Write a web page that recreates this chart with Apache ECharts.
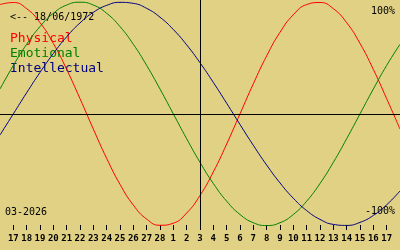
<!DOCTYPE html>
<html>
<head>
<meta charset="utf-8">
<script src="https://cdn.jsdelivr.net/npm/echarts@6/dist/echarts.min.js"></script>
<style>
html,body{margin:0;padding:0;background:#e0d184;}
#chart{width:400px;height:250px;}
</style>
</head>
<body>
<div id="chart"></div>
<script>
// Day offsets relative to the marked day (03-2026, day 3)
const dayOffsets = [-15,-14,-13,-12,-11,-10,-9,-8,-7,-6,-5,-4,-3,-2,-1,0,1,2,3,4,5,6,7,8,9,10,11,12,13,14,15];
const dayLabels = ['16','17','18','19','20','21','22','23','24','25','26','27','28','1','2','3','4','5','6','7','8','9','10','11','12','13','14','15','16','17','18'];
const physical = [0.9791,0.9977,0.9423,0.8170,0.6311,0.3984,0.1362,-0.1362,-0.3984,-0.6311,-0.8170,-0.9423,-0.9977,-0.9791,-0.8879,-0.7308,-0.5196,-0.2698,0,0.2698,0.5196,0.7308,0.8879,0.9791,0.9977,0.9423,0.8170,0.6311,0.3984,0.1362,-0.1362];
const emotional = [0.2225,0.4339,0.6235,0.7818,0.9010,0.9749,1,0.9749,0.9010,0.7818,0.6235,0.4339,0.2225,0,-0.2225,-0.4339,-0.6235,-0.7818,-0.9010,-0.9749,-1,-0.9749,-0.9010,-0.7818,-0.6235,-0.4339,-0.2225,0,0.2225,0.4339,0.6235];
const intellectual = [-0.1893,0,0.1893,0.3717,0.5406,0.6901,0.8146,0.9096,0.9718,0.9989,0.9898,0.9450,0.8660,0.7557,0.6182,0.4582,0.2817,0.0951,-0.0951,-0.2817,-0.4582,-0.6182,-0.7557,-0.8660,-0.9450,-0.9898,-0.9989,-0.9718,-0.9096,-0.8146,-0.6901];
const tickOffsets = dayOffsets.slice(1, -1);
const birthText = '<-- 18/06/1972';
const monthText = '03-2026';
const legendNames = ['Physical', 'Emotional', 'Intellectual'];

const colors = ['#ff0000', '#008000', '#000080'];
const mono = '"DejaVu Sans Mono", monospace';
const pairs = arr => dayOffsets.map((d, i) => [d, arr[i]]);

const chart = echarts.init(document.getElementById('chart'), null, {renderer: 'canvas'});
const mkSeries = (name, arr, color, extra) => Object.assign({
  name, type: 'line', data: pairs(arr), smooth: true, showSymbol: false,
  lineStyle: {color, width: 1}, itemStyle: {color}, silent: true, animation: false, z: 3
}, extra || {});

chart.setOption({
  backgroundColor: '#e0d184',
  animation: false,
  grid: {left: 0, right: 0, top: 0, bottom: 20},
  xAxis: {
    type: 'value', min: -15, max: 15, interval: 1,
    axisLine: {show: false, onZero: false},
    splitLine: {show: false},
    axisTick: {show: true, inside: true, length: 5, customValues: tickOffsets, lineStyle: {color: '#000', width: 1}},
    axisLabel: {
      show: true, customValues: tickOffsets, margin: 4,
      formatter: v => dayLabels[dayOffsets.indexOf(v)],
      color: '#000', fontFamily: mono, fontWeight: 'bold', fontSize: 9
    }
  },
  yAxis: {
    type: 'value', min: -1.04, max: 1.02, show: false, splitLine: {show: false}
  },
  series: [
    mkSeries(legendNames[0], physical, colors[0], {
      markLine: {
        silent: true, symbol: 'none', label: {show: false},
        lineStyle: {color: '#000', width: 1, type: 'solid'},
        data: [{yAxis: 0}, {xAxis: 0}]
      }
    }),
    mkSeries(legendNames[1], emotional, colors[1]),
    mkSeries(legendNames[2], intellectual, colors[2])
  ],
  graphic: [
    {type: 'text', left: 10, top: 12, style: {text: birthText, fill: '#000', font: '10px ' + mono}},
    {type: 'text', left: 10, top: 32, style: {text: legendNames[0], fill: colors[0], font: '13px ' + mono}},
    {type: 'text', left: 10, top: 47, style: {text: legendNames[1], fill: colors[1], font: '13px ' + mono}},
    {type: 'text', left: 10, top: 62, style: {text: legendNames[2], fill: colors[2], font: '13px ' + mono}},
    {type: 'text', right: 5, top: 6, style: {text: '100%', fill: '#000', font: '10px ' + mono}},
    {type: 'text', right: 5, top: 206, style: {text: '-100%', fill: '#000', font: '10px ' + mono}},
    {type: 'text', left: 5, top: 207, style: {text: monthText, fill: '#000', font: '10px ' + mono}}
  ]
});
</script>
</body>
</html>
